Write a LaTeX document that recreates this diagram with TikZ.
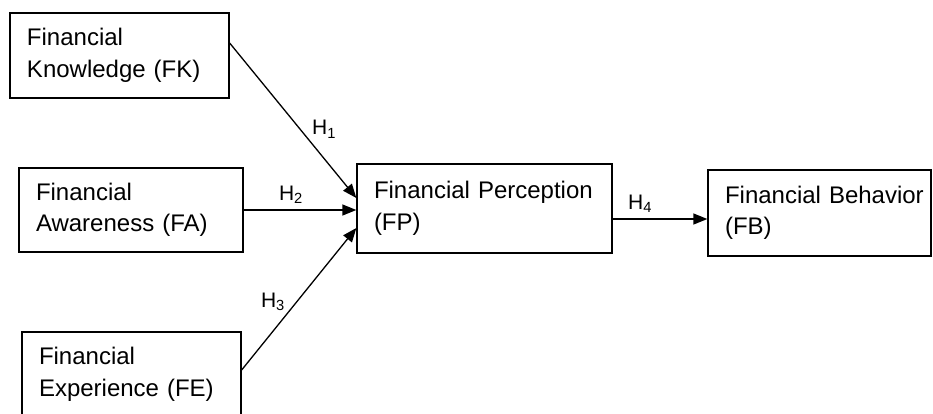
\documentclass[tikz,border=0pt]{standalone}
\usepackage{fontspec}
\setmainfont{Liberation Sans}
\usetikzlibrary{arrows.meta}

\begin{document}
\begin{tikzpicture}[
      x=1pt, y=-1pt,
      var/.style={draw, line width=1.3pt, align=left, inner xsep=17pt, inner ysep=0pt,
                  font=\fontsize{24}{31.5}\selectfont},
      link/.style={line width=1.3pt, ->},
      hyp/.style={font=\fontsize{21}{24}\selectfont, inner sep=2pt},
      >={Triangle[length=14pt,width=11pt]}
    ]
    \useasboundingbox (0,0) rectangle (933,413);
    % variables
    \node[var, minimum width=219pt, minimum height=85pt, text width=185pt] (fk) at (119.5,55.5) {Financial\\Knowledge (FK)};
    \node[var, minimum width=224pt, minimum height=84pt, text width=190pt] (fa) at (131,210) {Financial\\Awareness (FA)};
    \node[var, minimum width=219pt, minimum height=85pt, text width=185pt] (fe) at (131.5,374.5) {Financial\\Experience (FE)};
    \node[var, minimum width=255pt, minimum height=89pt, text width=221pt] (fp) at (484.5,208.5) {\mbox{Financial Perception}\\(FP)};
    \node[var, minimum width=223pt, minimum height=86pt, text width=189pt] (fb) at (819.5,213) {\mbox{Financial Behavior}\\(FB)};
    % hypotheses
    \coordinate (fpo) at ([yshift=-10.5pt]fp.east);
    \draw[link] ([yshift=12.5pt]fk.east) -- node[hyp, pos=0.63, anchor=south west] (h1) {H\textsubscript{1}} ([yshift=10.5pt]fp.west);
    \draw[link] (fa.east) -- node[hyp, pos=0.42, above=4pt] (h2) {H\textsubscript{2}} (fa.east -| fp.west);
    \draw[link] ([yshift=4.5pt]fe.east) -- node[hyp, pos=0.4, anchor=south east] (h3) {H\textsubscript{3}} ([yshift=-19.5pt]fp.west);
    \draw[link] (fpo) -- node[hyp, pos=0.29, above=4pt] (h4) {H\textsubscript{4}} (fpo -| fb.west);
  \end{tikzpicture}
\end{document}
